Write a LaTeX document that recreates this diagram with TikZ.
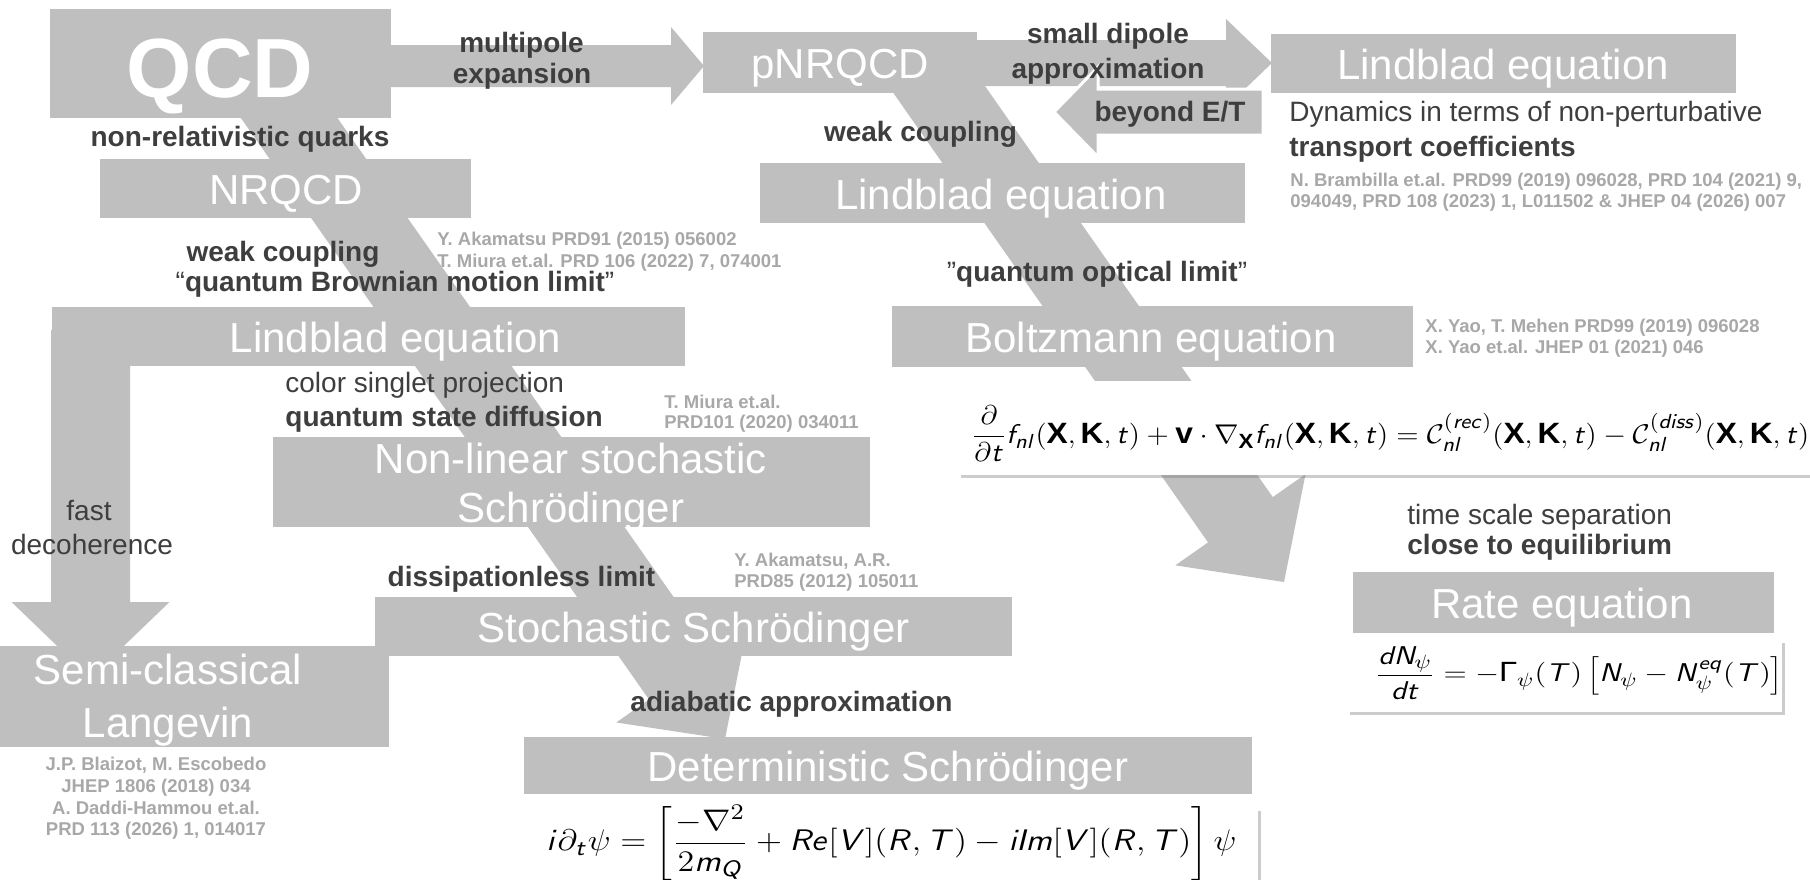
\documentclass[tikz,border=0pt]{standalone}
\usepackage{fontspec}
\setmainfont{Liberation Sans}
\usetikzlibrary{calc,shadows}
\DeclareSymbolFont{sfitletters}{OT1}{cmss}{m}{sl}
\newcount\mylc
\mylc=`a
\loop\mathcode\mylc=\numexpr"7000+\symsfitletters*"100+\mylc\relax
\advance\mylc by 1 \ifnum\mylc<123 \repeat
\mylc=`A
\loop\mathcode\mylc=\numexpr"7000+\symsfitletters*"100+\mylc\relax
\advance\mylc by 1 \ifnum\mylc<91 \repeat
\definecolor{boxgray}{RGB}{191,191,191}
\definecolor{txtdark}{RGB}{62,62,62}
\definecolor{refgray}{RGB}{168,168,168}
% #2 start, #3 tip, #4 shaft half-width, #5 head half-width, #6 head length
\newcommand\fatarrow[6][]{%
  \path ($(#3)!#6!(#2)$) coordinate (fab);
  \fill[arrowfill,#1] ($(#2)!#4!90:(fab)$) -- ($(fab)!#4!90:(#3)$) -- ($(fab)!#5!90:(#3)$)
    -- (#3) -- ($(fab)!#5!-90:(#3)$) -- ($(fab)!#4!-90:(#3)$) -- ($(#2)!#4!-90:(fab)$) -- cycle;
}
\begin{document}
\begin{tikzpicture}[x=0.5pt,y=-0.5pt,
  gbox/.style={fill=boxgray, inner sep=0pt, outer sep=0pt},
  arrowfill/.style={fill=boxgray},
  ttl/.style={text=white, font=\fontsize{21}{25}\selectfont, inner sep=0pt, anchor=base},
  lbl/.style={text=txtdark, font=\fontsize{14}{17}\selectfont\bfseries, inner sep=0pt, anchor=base},
  lblr/.style={text=txtdark, font=\fontsize{14}{17}\selectfont, inner sep=0pt, anchor=base},
  refs/.style={text=refgray, font=\fontsize{9.25}{11}\selectfont\bfseries, inner sep=0pt, anchor=base},
  eqbox/.style={fill=white, inner sep=0pt, outer sep=0pt, drop shadow={shadow xshift=1.5pt, shadow yshift=-1.5pt, opacity=0.4}},
  eqn/.style={text=black, font=\fontsize{13}{16}\selectfont, inner sep=0pt, anchor=west},
]
\fill[white] (0,0) rectangle (1810,879);
\useasboundingbox (0,0) rectangle (1810,879);

% arrow end points
\coordinate (a1s) at (248.5,60);  \coordinate (a1t) at (725,739);
\coordinate (a2s) at (918.5,60);  \coordinate (a2t) at (1284,582);
\coordinate (a3s) at (90.5,330);  \coordinate (a3t) at (90.5,678);
\coordinate (a4s) at (300,66);    \coordinate (a4t) at (704,66);
\coordinate (a5s) at (900,63);    \coordinate (a5t) at (1272,63);
\coordinate (a6s) at (1263,112);  \coordinate (a6t) at (1054,112);

% fat arrows
\fatarrow{a1s}{a1t}{19.75pt}{39.75pt}{38pt}
\fatarrow{a2s}{a2t}{19.75pt}{39.75pt}{38pt}
\fatarrow{a3s}{a3t}{19.75pt}{39.5pt}{38pt}
\fatarrow{a4s}{a4t}{10.5pt}{19.5pt}{16.5pt}
\fatarrow{a5s}{a5t}{11.5pt}{22pt}{23pt}
\fatarrow[draw=white,line width=1.5pt]{a6s}{a6t}{11.5pt}{22.5pt}{22pt}

% grey boxes
\node[gbox, minimum width=170.5pt, minimum height=54.5pt] (qcd) at (220.5,63.5) {};
\node[gbox, minimum width=137pt, minimum height=30.5pt] (pnrqcd) at (840,62.5) {};
\node[gbox, minimum width=232.5pt, minimum height=29.5pt] (lindR) at (1503.5,63.5) {};
\node[gbox, minimum width=185.5pt, minimum height=29.5pt] (nrqcd) at (285.5,188.5) {};
\node[gbox, minimum width=242.5pt, minimum height=30pt] (lindM) at (1002.5,193) {};
\node[gbox, minimum width=316.5pt, minimum height=29.5pt] (lindL) at (368.5,336.5) {};
\node[gbox, minimum width=260.5pt, minimum height=30.5pt] (boltz) at (1152.5,336.5) {};
\node[gbox, minimum width=298.5pt, minimum height=45pt] (nonlin) at (571.5,482) {};
\node[gbox, minimum width=318.5pt, minimum height=29.5pt] (stoch) at (693.5,626.5) {};
\node[gbox, minimum width=194.5pt, minimum height=50.5pt] (semi) at (194.5,696.5) {};
\node[gbox, minimum width=364pt, minimum height=28.5pt] (determ) at (888,765.5) {};
\node[gbox, minimum width=210.5pt, minimum height=30.5pt] (rate) at (1563.5,602.5) {};

% equation boxes
\node[eqbox, minimum width=431pt, minimum height=47pt] (boltzeqbox) at (1389,428) {};
\node[eqbox, minimum width=364pt, minimum height=43.5pt] (determeqbox) at (894,851.5) {};
\node[eqbox, minimum width=217.5pt, minimum height=36pt] (rateeqbox) at (1564.5,676) {};

% titles
\node[ttl, font=\fontsize{42}{48}\selectfont\bfseries] (tqcd) at (220,97) {QCD};
\node[ttl] (tpnrqcd) at (840,78.5) {pNRQCD};
\node[ttl] (tlindR) at (1503,79.5) {Lindblad equation};
\node[ttl] (tnrqcd) at (286,204.5) {NRQCD};
\node[ttl] (tlindM) at (1001,209) {Lindblad equation};
\node[ttl] (tlindL) at (395.5,352.5) {Lindblad equation};
\node[ttl] (tboltz) at (1151,352.5) {Boltzmann equation};
\node[ttl] (tnonlin1) at (571,473) {Non-linear stochastic};
\node[ttl] (tnonlin2) at (571,522) {Schrödinger};
\node[ttl] (tstoch) at (693.5,642) {Stochastic Schrödinger};
\node[ttl] (tsemi1) at (168,684) {Semi-classical};
\node[ttl] (tsemi2) at (168,737) {Langevin};
\node[ttl] (tdeterm) at (888,781.5) {Deterministic Schrödinger};
\node[ttl] (trate) at (1562,618.5) {Rate equation};

% labels
\node[lbl] (l1) at (521.5,52) {multipole};
\node[lbl] (l2) at (522,83) {expansion};
\node[lbl] (l3) at (1108,43) {small dipole};
\node[lbl] (l4) at (1108,78) {approximation};
\node[lbl] (l5) at (1170,121) {beyond E/T};
\node[lbl] (l6) at (920.5,141) {weak coupling};
\node[lbl] (l7) at (240,146) {non-relativistic quarks};
\node[lbl] (l8) at (283,261) {weak coupling};
\node[lblr] (l9) at (395,291) {“\textbf{quantum Brownian motion limit}”};
\node[lblr] (l10) at (1097,281) {”\textbf{quantum optical limit}”};
\node[lblr, anchor=base west] (l11) at (1289,121) {Dynamics in terms of non-perturbative};
\node[lbl, anchor=base west] (l12) at (1289,156) {transport coefficients};
\node[lblr, anchor=base west] (l13) at (285,392) {color singlet projection};
\node[lbl, anchor=base west] (l14) at (285,426) {quantum state diffusion};
\node[lblr] (l15) at (89,520) {fast};
\node[lblr] (l16) at (92,554) {decoherence};
\node[lbl] (l17) at (521.5,586) {dissipationless limit};
\node[lbl] (l18) at (791.5,711) {adiabatic approximation};
\node[lblr, anchor=base west] (l19) at (1407,524) {time scale separation};
\node[lbl, anchor=base west] (l20) at (1407,554) {close to equilibrium};

% references
\node[refs, anchor=base west] (r1) at (437,245) {Y. Akamatsu PRD91 (2015) 056002};
\node[refs, anchor=base west] (r2) at (437,267) {T. Miura et.al. PRD 106 (2022) 7, 074001};
\node[refs, anchor=base west] (r3) at (1290,186) {N. Brambilla et.al. PRD99 (2019) 096028, PRD 104 (2021) 9,};
\node[refs, anchor=base west] (r4) at (1290,207) {094049, PRD 108 (2023) 1, L011502 \& JHEP 04 (2026) 007};
\node[refs, anchor=base west] (r5) at (1425,332) {X. Yao, T. Mehen PRD99 (2019) 096028};
\node[refs, anchor=base west] (r6) at (1425,353) {X. Yao et.al. JHEP 01 (2021) 046};
\node[refs, anchor=base west] (r7) at (664,408) {T. Miura et.al.};
\node[refs, anchor=base west] (r8) at (664,428) {PRD101 (2020) 034011};
\node[refs, anchor=base west] (r9) at (734,566) {Y. Akamatsu, A.R.};
\node[refs, anchor=base west] (r10) at (734,587) {PRD85 (2012) 105011};
\node[refs] (r11) at (156,770) {J.P. Blaizot, M. Escobedo};
\node[refs] (r12) at (156,792) {JHEP 1806 (2018) 034};
\node[refs] (r13) at (156,814) {A. Daddi-Hammou et.al.};
\node[refs] (r14) at (156,835) {PRD 113 (2026) 1, 014017};

% equations
\node[eqn] (eqboltz) at (971,434) {\scalebox{1.22}[1.13]{$\displaystyle \frac{\partial}{\partial t} f_{nl}(\mathbf{X},\mathbf{K},t) + \mathbf{v}\cdot\nabla_{\mathbf{X}} f_{nl}(\mathbf{X},\mathbf{K},t) = \mathcal{C}^{(rec)}_{nl}(\mathbf{X},\mathbf{K},t) - \mathcal{C}^{(diss)}_{nl}(\mathbf{X},\mathbf{K},t)$}};
\node[eqn] (eqdeterm) at (546,843) {\scalebox{1.42}[1.24]{$\displaystyle i\partial_t\psi = \left[\frac{-\nabla^2}{2m_Q} + Re[V](R,T) - iIm[V](R,T)\right]\psi$}};
\node[eqn] (eqrate) at (1375,673) {\scalebox{1.27}[1.07]{$\displaystyle \frac{dN_\psi}{dt} = -\mbox{Γ}_\psi(T)\left[N_\psi - N^{eq}_\psi(T)\right]$}};
\end{tikzpicture}
\end{document}
